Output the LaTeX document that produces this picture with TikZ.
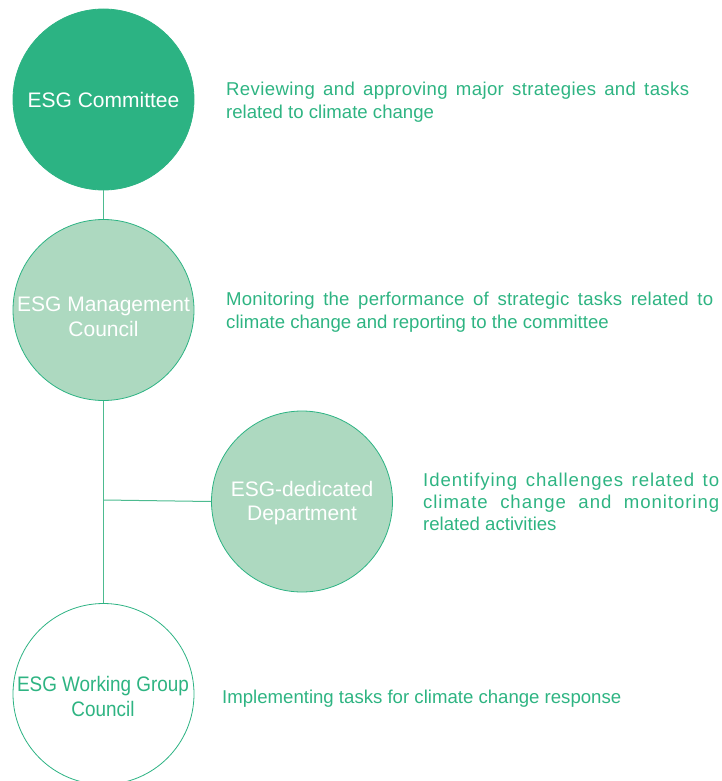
\documentclass[tikz,border=0pt]{standalone}
\usepackage{fontspec}
\setmainfont{Liberation Sans}
\definecolor{dkgreen}{HTML}{2CB383}
\definecolor{ltgreen}{HTML}{ADD9C0}
\definecolor{txtgreen}{HTML}{2EB482}
\definecolor{linegreen}{HTML}{4DBB90}
\tikzset{
  orgcircle/.style={circle, minimum size=181pt, inner sep=0pt, draw=dkgreen, line width=0.8pt},
  circtext/.style={anchor=base, inner sep=0pt, font=\fontsize{21}{25}\selectfont},
  desc/.style={anchor=base west, inner sep=0pt, text=txtgreen, font=\fontsize{18.6}{22}\selectfont},
  connector/.style={draw=linegreen, line width=1pt}
}
\begin{document}
\begin{tikzpicture}[x=1pt,y=-1pt]
\useasboundingbox (0,0) rectangle (721,781);
% circles
\node[orgcircle, fill=dkgreen] (c1) at (103.5,99.5) {};
\node[orgcircle, fill=ltgreen] (c2) at (103.5,310) {};
\node[orgcircle, fill=ltgreen] (c3) at (302,501.5) {};
\node[orgcircle, fill=white] (c4) at (103.5,694) {};
\coordinate (j) at (103.5,500);
% connectors
\draw[connector] (c1.south) -- (c2.north);
\draw[connector] (c2.south) -- (c4.north);
\draw[connector] (j) -- (c3.west);
% circle labels
\node[circtext, text=white] (l1) at (103.5,108) {ESG Committee};
\node[circtext, text=white] (l2a) at (103.5,311) {ESG Management};
\node[circtext, text=white] (l2b) at (103.5,336) {Council};
\node[circtext, text=white] (l3a) at (302,496.7) {ESG-dedicated};
\node[circtext, text=white] (l3b) at (302,520.5) {Department};
\node[circtext, text=txtgreen] (l4a) at (103,691) {\scalebox{0.9}[1]{ESG Working Group}};
\node[circtext, text=txtgreen] (l4b) at (103,716.5) {\scalebox{0.9}[1]{Council}};
% descriptions
\node[desc] (d1a) at (226,96) {\addfontfeature{LetterSpace=2}\makebox[463pt][s]{Reviewing and approving major strategies and tasks}};
\node[desc] (d1b) at (226,118) {related to climate change};
\node[desc] (d2a) at (226,305) {\addfontfeature{LetterSpace=1}\makebox[487pt][s]{Monitoring the performance of strategic tasks related to}};
\node[desc] (d2b) at (226,328) {climate change and reporting to the committee};
\node[desc] (d3a) at (423,486) {\addfontfeature{LetterSpace=5}\makebox[296pt][s]{Identifying challenges related to}};
\node[desc] (d3b) at (423,508) {\addfontfeature{LetterSpace=5}\makebox[296pt][s]{climate change and monitoring}};
\node[desc] (d3c) at (423,530) {related activities};
\node[desc] (d4) at (222,703) {Implementing tasks for climate change response};
\end{tikzpicture}
\end{document}
